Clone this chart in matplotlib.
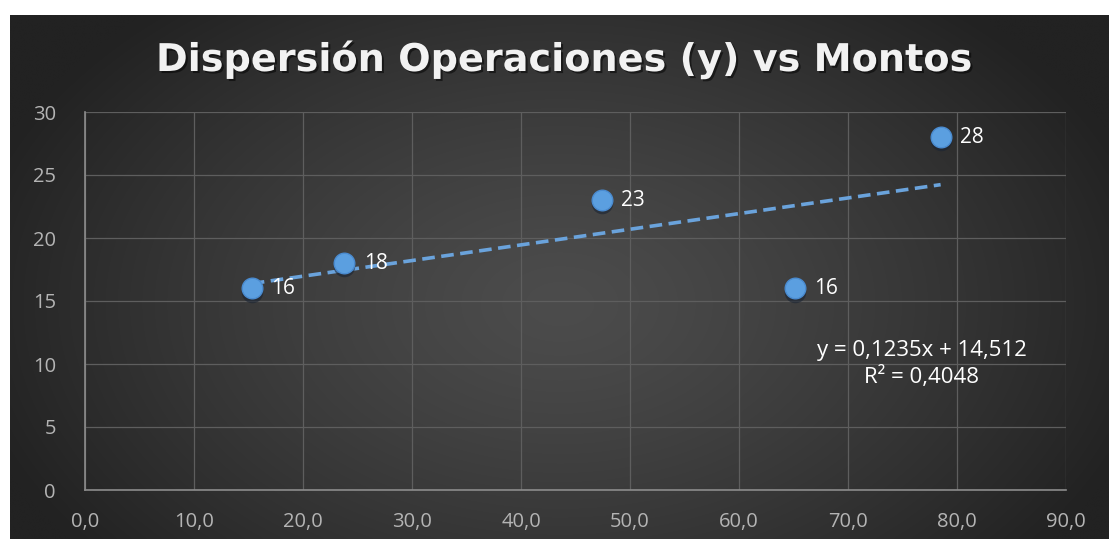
import numpy as np
import matplotlib
matplotlib.use("Agg")
import matplotlib.pyplot as plt
import matplotlib.patheffects as pe

# Data
montos = [15.3, 23.8, 47.4, 65.1, 78.5]
operaciones = [16, 18, 23, 16, 28]
x_ticks = [0, 10, 20, 30, 40, 50, 60, 70, 80, 90]
y_ticks = [0, 5, 10, 15, 20, 25, 30]
title = "Dispersión Operaciones (y) vs Montos"
eq_text = "y = 0,1235x + 14,512\nR² = 0,4048"

W, H = 1109, 539
fig = plt.figure(figsize=(W / 100, H / 100), dpi=100, facecolor="white")

# background with radial gradient
bg = fig.add_axes([10 / W, 0, (W - 10) / W, (H - 15) / H])
bg.set_axis_off()
ny, nx = 300, 600
yy, xx = np.mgrid[0:ny, 0:nx]
cx, cy = nx * 0.5, ny * 0.55
r = np.sqrt(((xx - cx) / (nx * 0.55)) ** 2 + ((yy - cy) / (ny * 0.75)) ** 2)
r = np.clip(r, 0, 1)
light, dark = 0x4c / 255, 0x22 / 255
val = light + (dark - light) * r ** 1.3
img = np.dstack([val, val, val])
bg.imshow(img, aspect="auto", extent=[0, 1, 0, 1], interpolation="bicubic")
bg.set_xlim(0, 1)
bg.set_ylim(0, 1)

fonts = ["Open Sans", "DejaVu Sans"]

# plot axes
left, right, top, bottom = 85, 1066, 112, 490
ax = fig.add_axes([left / W, 1 - bottom / H, (right - left) / W, (bottom - top) / H])
ax.set_facecolor("none")
ax.set_xlim(0, 90)
ax.set_ylim(0, 30)
ax.set_xticks(x_ticks)
ax.set_yticks(y_ticks)
ax.set_xticklabels([f"{v:.1f}".replace(".", ",") for v in x_ticks], fontfamily=fonts,
                   fontsize=14.5, color="#b4b4b4")
ax.set_yticklabels([str(v) for v in y_ticks], fontfamily=fonts, fontsize=14.5, color="#b4b4b4")
ax.tick_params(length=0)
ax.tick_params(axis="x", pad=16)
ax.tick_params(axis="y", pad=21)
ax.grid(True, color="#5e5e5e", linewidth=0.9)
ax.set_axisbelow(True)
for s in ["top", "right"]:
    ax.spines[s].set_visible(False)
for s in ["left", "bottom"]:
    ax.spines[s].set_color("#8c8c8c")
    ax.spines[s].set_linewidth(1.2)

# trend line
coef = np.polyfit(montos, operaciones, 1)
tx = np.array([min(montos), max(montos)])
ax.plot(tx, np.polyval(coef, tx), linestyle=(0, (3.5, 1.8)), color="#6aa3dc",
        linewidth=2.6, zorder=3)

# points
ax.scatter(montos, [v - 0.25 for v in operaciones], s=240, color="#1a2433", alpha=0.6,
           zorder=4, linewidths=0)
ax.scatter(montos, operaciones, s=220, color="#5b9fe0", edgecolors="#4a8bd0",
           linewidths=1, zorder=5)
for x, y in zip(montos, operaciones):
    ax.annotate(str(y), (x, y), xytext=(14, 0), textcoords="offset points",
                va="center", ha="left", color="white", fontsize=15, fontfamily=fonts, zorder=6)

# equation
ax.text((922 - left) / (right - left), 1 - (364 - top) / (bottom - top), eq_text,
        transform=ax.transAxes, ha="center", va="center", color="white",
        fontsize=16, fontfamily=fonts, linespacing=1.25, zorder=6)

# title
fig.text(0.5 * (152 + 978) / W, 1 - 60 / H, title, ha="center", va="center",
         color="#f2f2f2", fontsize=27.5, fontweight="bold", fontfamily="DejaVu Sans",
         path_effects=[pe.withSimplePatchShadow(offset=(1.5, -1.5), shadow_rgbFace="black", alpha=0.5)])

fig.savefig("out.png", dpi=100, facecolor="white")
